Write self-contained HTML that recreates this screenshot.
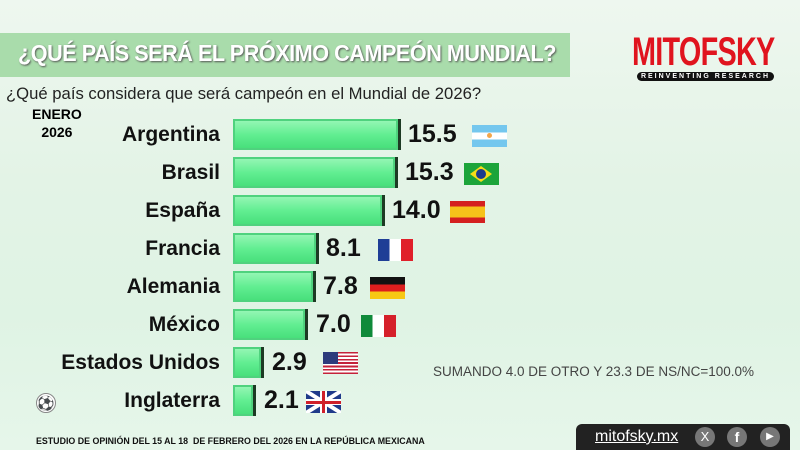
<!DOCTYPE html>
<html><head><meta charset="utf-8"><style>
body{margin:0;width:800px;height:450px;overflow:hidden;font-family:"Liberation Sans",sans-serif;
background:linear-gradient(180deg,#eef7ef 0%,#e3f3e6 40%,#dff3e4 70%,#e6f6ea 100%);position:relative}
.t{position:absolute;white-space:nowrap}
.band{position:absolute;left:0;top:33px;width:570px;height:44px;background:#a9dcab}
.title{left:18px;top:40px;font-size:23px;font-weight:bold;color:#fff;letter-spacing:-0.5px;text-shadow:1px 1px 2px #555;transform:scaleX(0.94);transform-origin:left}
.sub{left:6px;top:84px;font-size:17px;color:#222;transform:scaleX(0.98);transform-origin:left}
.bar{position:absolute;left:233px;height:31px;background:linear-gradient(180deg,#9bf7b8 0%,#62ee92 50%,#44dd78 100%);border-right:3px solid #1d3a24;box-shadow:inset 0 0 0 2px #4fd27e}
.lab{font-size:21px;font-weight:bold;color:#111;text-align:right;width:220px;left:0}
.val{font-size:25px;font-weight:bold;color:#111}
.flag{position:absolute;width:35px;height:22px}
</style></head><body>
<div class="band"></div>
<div class="t title">¿QUÉ PAÍS SERÁ EL PRÓXIMO CAMPEÓN MUNDIAL?</div>
<div class="t" style="left:632px;top:30px;font-size:40px;font-weight:bold;color:#e0141e;letter-spacing:-1px;transform:scaleX(0.72);transform-origin:left">MITOFSKY</div>
<div class="t" style="left:637px;top:72px;width:137px;height:9px;background:#111;border-radius:5px;color:#fff;font-size:7px;font-weight:bold;text-align:center;line-height:9px;letter-spacing:2px">REINVENTING RESEARCH</div>
<div class="t sub">¿Qué país considera que será campeón en el Mundial de 2026?</div>
<div class="t" style="left:32px;top:105px;font-size:14px;font-weight:bold;text-align:center;line-height:18px">ENERO<br>2026</div>

<div class="t lab" style="top:123px">Argentina</div><div class="bar" style="top:119px;width:165px"></div><div class="t val" style="left:408px;top:120px">15.5</div>
<div class="flag" style="left:472px;top:125px;background:linear-gradient(#74c7ee 33%,#fff 33% 66%,#74c7ee 66%)"><div style="position:absolute;left:15px;top:8px;width:5px;height:5px;border-radius:50%;background:#f3a64a"></div></div>

<div class="t lab" style="top:161px">Brasil</div><div class="bar" style="top:157px;width:162px"></div><div class="t val" style="left:405px;top:158px">15.3</div>
<div class="flag" style="left:464px;top:163px;background:#1ca43a"><div style="position:absolute;left:6px;top:3px;width:22px;height:16px;background:#f5dd18;clip-path:polygon(50% 0,100% 50%,50% 100%,0 50%)"></div><div style="position:absolute;left:12px;top:6px;width:10px;height:10px;border-radius:50%;background:#1b3b8c"></div></div>

<div class="t lab" style="top:199px">España</div><div class="bar" style="top:195px;width:149px"></div><div class="t val" style="left:392px;top:196px">14.0</div>
<div class="flag" style="left:450px;top:201px;background:linear-gradient(#d42020 25%,#f6c21a 25% 75%,#d42020 75%)"></div>

<div class="t lab" style="top:237px">Francia</div><div class="bar" style="top:233px;width:83px"></div><div class="t val" style="left:326px;top:234px">8.1</div>
<div class="flag" style="left:378px;top:239px;background:linear-gradient(90deg,#1f3e96 33%,#fff 33% 66%,#e0202a 66%)"></div>

<div class="t lab" style="top:275px">Alemania</div><div class="bar" style="top:271px;width:80px"></div><div class="t val" style="left:323px;top:272px">7.8</div>
<div class="flag" style="left:370px;top:277px;background:linear-gradient(#111 33%,#dd1e1e 33% 66%,#f7c814 66%)"></div>

<div class="t lab" style="top:313px">México</div><div class="bar" style="top:309px;width:72px"></div><div class="t val" style="left:316px;top:310px">7.0</div>
<div class="flag" style="left:361px;top:315px;background:linear-gradient(90deg,#0f8a3a 33%,#fff 33% 66%,#d5202a 66%)"></div>

<div class="t lab" style="top:351px">Estados Unidos</div><div class="bar" style="top:347px;width:28px"></div><div class="t val" style="left:272px;top:348px">2.9</div>
<div class="flag" style="left:323px;top:352px;background:repeating-linear-gradient(#c4223a 0 1.7px,#fff 1.7px 3.4px)"><div style="position:absolute;left:0;top:0;width:15px;height:12px;background:#2d3b7c"></div></div>

<div class="t lab" style="top:389px">Inglaterra</div><div class="bar" style="top:385px;width:20px"></div><div class="t val" style="left:264px;top:386px">2.1</div>
<div class="flag" style="left:306px;top:391px;background:#1f3a8a;overflow:hidden"><div style="position:absolute;left:-5px;top:9px;width:45px;height:4px;background:#fff;transform:rotate(32deg)"></div><div style="position:absolute;left:-5px;top:9px;width:45px;height:4px;background:#fff;transform:rotate(-32deg)"></div><div style="position:absolute;left:14px;top:0;width:7px;height:22px;background:#fff"></div><div style="position:absolute;left:0;top:8px;width:35px;height:6px;background:#fff"></div><div style="position:absolute;left:16px;top:0;width:3px;height:22px;background:#d0202a"></div><div style="position:absolute;left:0;top:9.5px;width:35px;height:3px;background:#d0202a"></div></div>

<div class="t" style="left:433px;top:364px;font-size:13.5px;color:#444">SUMANDO 4.0 DE OTRO Y 23.3 DE NS/NC=100.0%</div>
<div class="t" style="left:36px;top:393px;width:18px;height:18px;border-radius:50%;background:#fff;border:1px solid #888;font-size:14px;line-height:18px;text-align:center">⚽</div>
<div class="t" style="left:36px;top:436px;font-size:9.5px;font-weight:bold;color:#111;transform:scaleX(0.93);transform-origin:left">ESTUDIO DE OPINIÓN DEL 15 AL 18&nbsp; DE FEBRERO DEL 2026 EN LA REPÚBLICA MEXICANA</div>
<div class="t" style="left:576px;top:424px;width:214px;height:26px;background:#222;border-radius:6px 6px 0 0"></div>
<div class="t" style="left:595px;top:428px;font-size:16px;color:#fff;text-decoration:underline">mitofsky.mx</div>
<div class="t" style="left:695px;top:427px;width:20px;height:20px;border-radius:50%;background:#777;color:#fff;font-size:13px;text-align:center;line-height:20px">X</div>
<div class="t" style="left:727px;top:427px;width:20px;height:20px;border-radius:50%;background:#777;color:#fff;font-size:14px;font-weight:bold;text-align:center;line-height:20px">f</div>
<div class="t" style="left:760px;top:427px;width:20px;height:20px;border-radius:50%;background:#777;color:#fff;font-size:10px;text-align:center;line-height:20px">▶</div>
</body></html>
